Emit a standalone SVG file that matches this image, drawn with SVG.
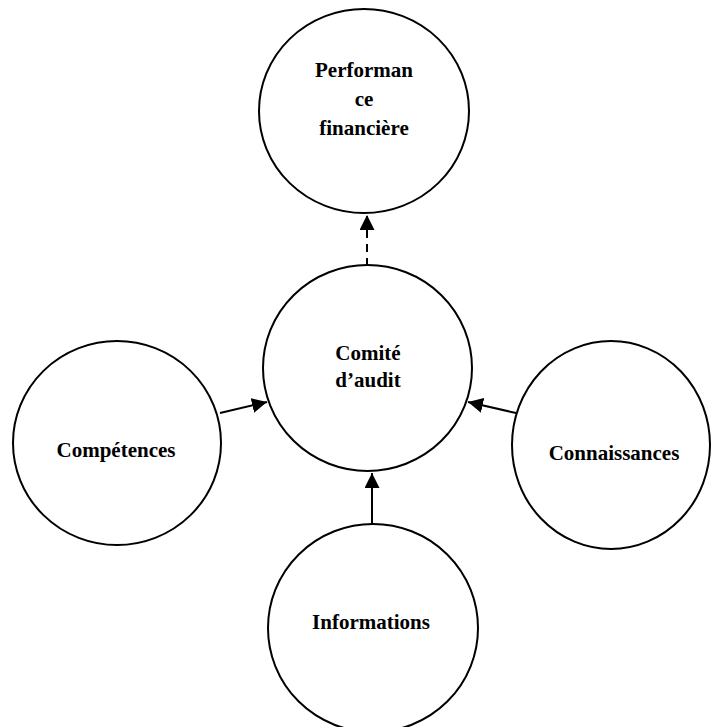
<svg xmlns="http://www.w3.org/2000/svg" width="711" height="727" viewBox="0 0 711 727">
<style>
.node{fill:#fff;stroke:#000;stroke-width:2}
.lbl{font-family:"Liberation Serif","Times New Roman",serif;font-weight:bold;font-size:21px;text-anchor:middle;fill:#000}
.conn{stroke:#000;stroke-width:2;fill:none}
</style>
<defs>
<marker id="ah" viewBox="0 0 10 10" refX="10" refY="5" markerWidth="7.5" markerHeight="7.5" markerUnits="userSpaceOnUse" orient="auto">
<path d="M0,0 L10,5 L0,10 Z" fill="#000"/>
</marker>
<marker id="ahb" viewBox="0 0 10 10" refX="10" refY="5" markerWidth="15" markerHeight="15" markerUnits="userSpaceOnUse" orient="auto">
<path d="M0,0 L10,5 L0,10 Z" fill="#000"/>
</marker>
</defs>
<rect width="711" height="727" fill="#fff"/>
<g id="connectors">
<line class="conn" x1="367" y1="266" x2="367" y2="215" stroke-dasharray="8,6" marker-end="url(#ahb)"/>
<line class="conn" x1="220" y1="413" x2="267" y2="402" marker-end="url(#ahb)"/>
<line class="conn" x1="516" y1="413" x2="468" y2="402" marker-end="url(#ahb)"/>
<line class="conn" x1="372" y1="524" x2="372" y2="473" marker-end="url(#ahb)"/>
</g>
<g id="performance">
<ellipse class="node" cx="364" cy="111" rx="105" ry="102"/>
<text class="lbl" x="364" y="77">Performan</text>
<text class="lbl" x="364" y="106">ce</text>
<text class="lbl" x="364" y="135">financière</text>
</g>
<g id="comite">
<ellipse class="node" cx="367.5" cy="368" rx="104.5" ry="103"/>
<text class="lbl" x="368" y="360">Comité</text>
<text class="lbl" x="368" y="387">d’audit</text>
</g>
<g id="competences">
<ellipse class="node" cx="117" cy="443" rx="104" ry="102"/>
<text class="lbl" x="116" y="457">Compétences</text>
</g>
<g id="connaissances">
<ellipse class="node" cx="611" cy="445" rx="99" ry="104"/>
<text class="lbl" x="614" y="460">Connaissances</text>
</g>
<g id="informations">
<ellipse class="node" cx="373" cy="628" rx="105" ry="104"/>
<text class="lbl" x="371" y="629">Informations</text>
</g>
</svg>
